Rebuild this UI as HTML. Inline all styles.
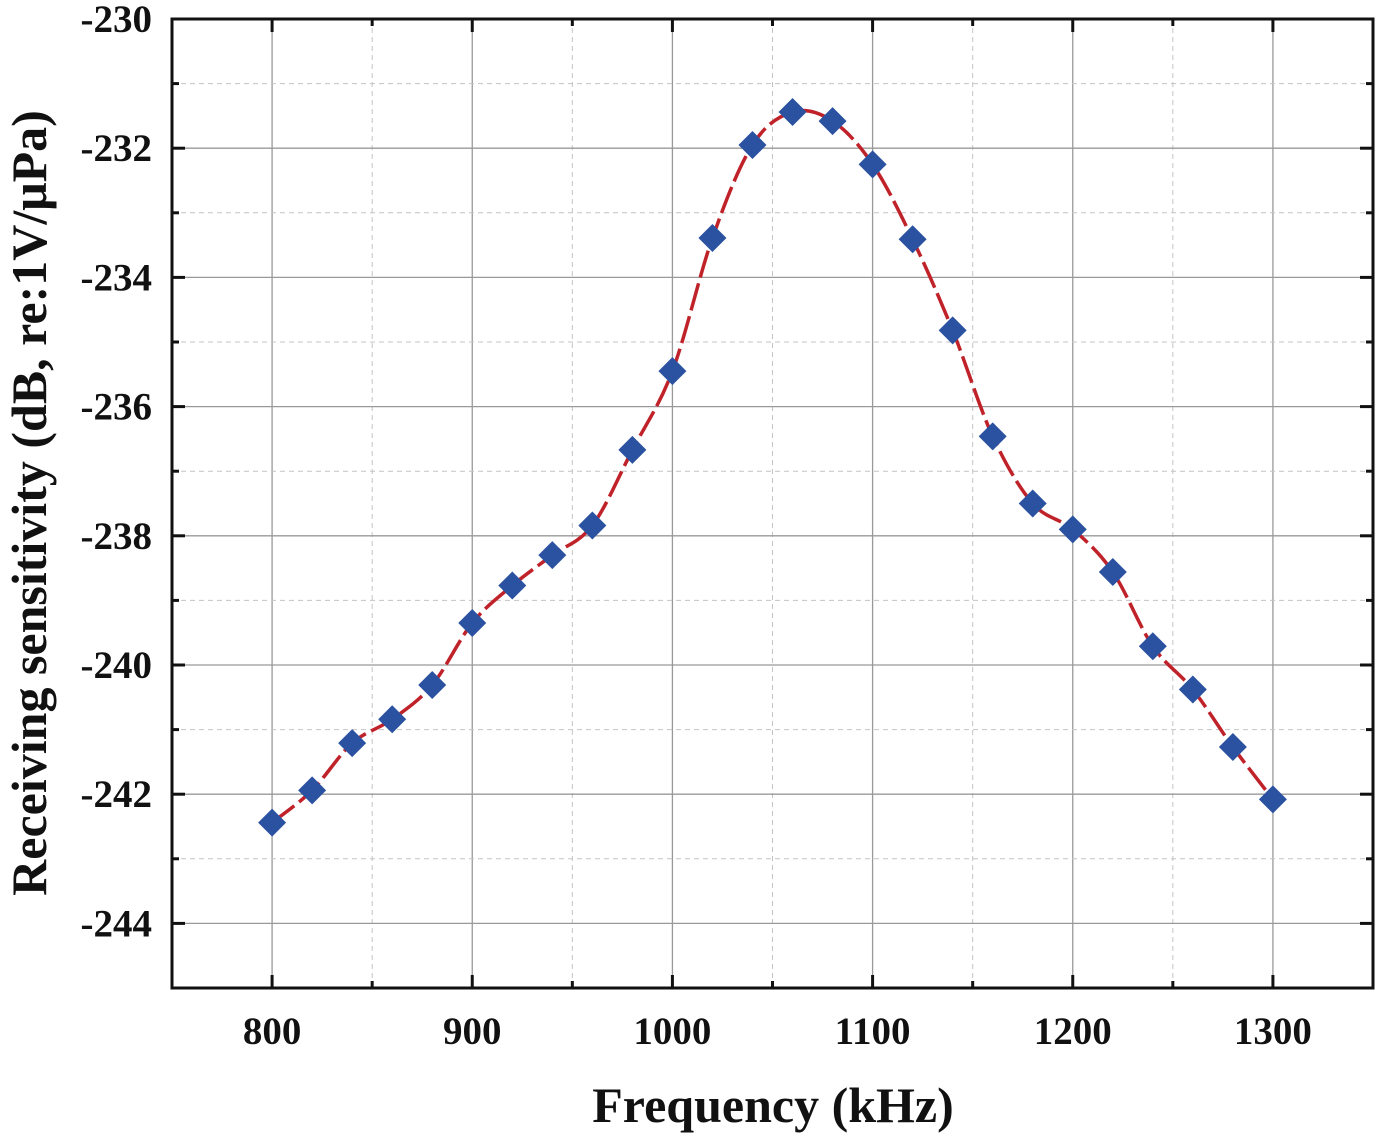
<!DOCTYPE html>
<html><head><meta charset="utf-8"><style>
html,body{margin:0;padding:0;background:#fff}
svg text{font-family:"Liberation Serif",serif;font-weight:bold;fill:#111}
</style></head><body>
<svg id="chart" width="1378" height="1135" viewBox="0 0 1378 1135" xmlns="http://www.w3.org/2000/svg">
<g id="grid"></g>
<g id="ticks"></g>
<g id="labels"></g>
<path id="curve" fill="none" stroke="#c0222a" stroke-width="3.5" stroke-dasharray="28,6"/>
<g id="marks"></g>
<rect x="172" y="19" width="1201" height="969" fill="none" stroke="#111" stroke-width="3"/>
<text x="773" y="1122" font-size="50" text-anchor="middle">Frequency (kHz)</text>
<text transform="translate(46,503) rotate(-90)" font-size="50" text-anchor="middle">Receiving sensitivity (dB, re:1V/μPa)</text>
</svg>
<script>
const frequencies=[800,820,840,860,880,900,920,940,960,980,1000,1020,1040,1060,1080,1100,1120,1140,1160,1180,1200,1220,1240,1260,1280,1300];
const sensitivity=[-242.44,-241.94,-241.21,-240.84,-240.31,-239.35,-238.77,-238.30,-237.84,-236.67,-235.45,-233.39,-231.95,-231.44,-231.58,-232.25,-233.41,-234.82,-236.46,-237.50,-237.90,-238.56,-239.71,-240.38,-241.27,-242.08];
const xTicks=[800,900,1000,1100,1200,1300];
const yTicks=[-230,-232,-234,-236,-238,-240,-242,-244];
const X0=172,X1=1373,Y0=19,Y1=988,xMin=750,xMax=1350,yMin=-245,yMax=-230;
const sx=v=>X0+(v-xMin)/(xMax-xMin)*(X1-X0);
const sy=v=>Y1-(v-yMin)/(yMax-yMin)*(Y1-Y0);
const NS='http://www.w3.org/2000/svg';
function mk(t,a,p){const e=document.createElementNS(NS,t);for(const k in a)e.setAttribute(k,a[k]);p.appendChild(e);return e;}
const grid=document.getElementById('grid'),ticks=document.getElementById('ticks'),labels=document.getElementById('labels');
for(let v=xMin+50;v<xMax;v+=50){const major=v%100===0;
 const l=mk('line',{x1:sx(v),x2:sx(v),y1:Y0,y2:Y1,stroke:major?'#999':'#c4c4c4','stroke-width':major?1.3:1,'stroke-dasharray':major?'':'5,4'},grid);
 
 const len=major?13:7;
 const t1=mk('line',{x1:sx(v),x2:sx(v),y1:Y1,y2:Y1-len,stroke:'#111','stroke-width':3},ticks);
 
 const t2=mk('line',{x1:sx(v),x2:sx(v),y1:Y0,y2:Y0+len,stroke:'#111','stroke-width':3},ticks);
 }
for(let v=yMin+1;v<yMax;v+=1){const major=v%2===0;
 const l=mk('line',{x1:X0,x2:X1,y1:sy(v),y2:sy(v),stroke:major?'#999':'#c4c4c4','stroke-width':major?1.3:1,'stroke-dasharray':major?'':'5,4'},grid);
 
 const len=major?13:7;
 const t1=mk('line',{x1:X0,x2:X0+len,y1:sy(v),y2:sy(v),stroke:'#111','stroke-width':3},ticks);
 
 const t2=mk('line',{x1:X1,x2:X1-len,y1:sy(v),y2:sy(v),stroke:'#111','stroke-width':3},ticks);
 }
xTicks.forEach(v=>{const t=mk('text',{x:sx(v),y:1044,'font-size':39,'text-anchor':'middle'},labels);t.textContent=v;
 });
yTicks.forEach(v=>{const t=mk('text',{x:152,y:sy(v)+13,'font-size':39,'text-anchor':'end'},labels);t.textContent=v;
 });
const P=frequencies.map((f,i)=>[sx(f),sy(sensitivity[i])]);
let d='M'+P[0][0]+','+P[0][1];
for(let i=0;i<P.length-1;i++){const p0=P[Math.max(i-1,0)],p1=P[i],p2=P[i+1],p3=P[Math.min(i+2,P.length-1)];
 d+=` C${p1[0]+(p2[0]-p0[0])/6},${p1[1]+(p2[1]-p0[1])/6} ${p2[0]-(p3[0]-p1[0])/6},${p2[1]-(p3[1]-p1[1])/6} ${p2[0]},${p2[1]}`;}
document.getElementById('curve').setAttribute('d',d);
const marks=document.getElementById('marks');
P.forEach(p=>{const s=14;const m=mk('polygon',{points:`${p[0]},${p[1]-s} ${p[0]+s},${p[1]} ${p[0]},${p[1]+s} ${p[0]-s},${p[1]}`,fill:'#2b52a0'},marks);
 });
</script>
</body></html>
